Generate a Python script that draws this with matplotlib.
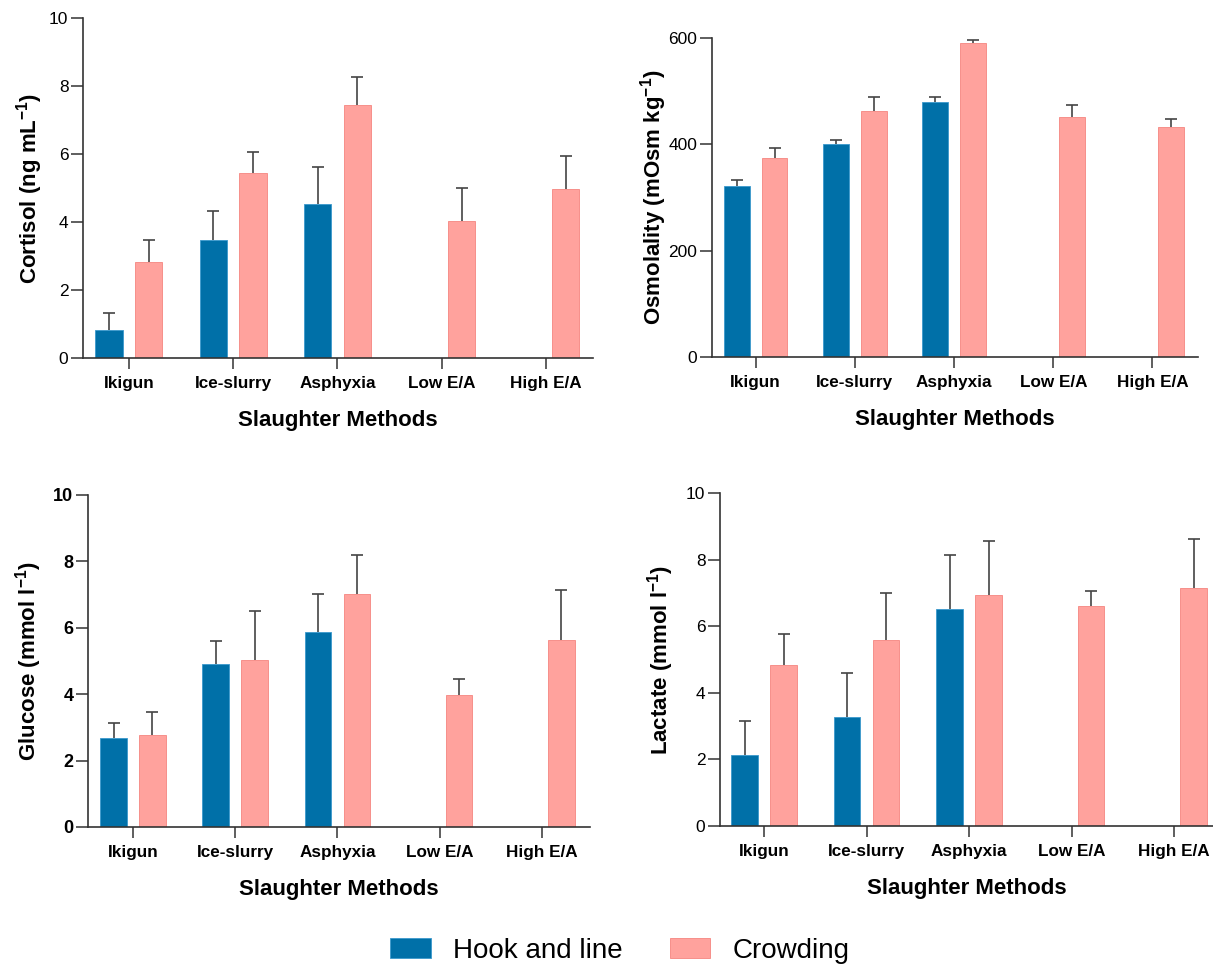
import numpy as np
import matplotlib
matplotlib.use("Agg")
import matplotlib.pyplot as plt

plt.rcParams['font.family'] = ['Liberation Sans', 'DejaVu Sans']
plt.rcParams['mathtext.fontset'] = 'custom'
plt.rcParams['mathtext.rm'] = 'Liberation Sans'
plt.rcParams['mathtext.bf'] = 'Liberation Sans:bold'

nan = np.nan

# Slaughter methods on the x axis
methods = ['Ikigun', 'Ice-slurry', 'Asphyxia', 'Low E/A', 'High E/A']

# Cortisol (ng/mL): means and upper SD
cortisol_hook = [0.81, 3.47, 4.52, nan, nan]
cortisol_hook_sd = [0.51, 0.85, 1.09, nan, nan]
cortisol_crowd = [2.81, 5.45, 7.44, 4.03, 4.97]
cortisol_crowd_sd = [0.65, 0.60, 0.81, 0.96, 0.96]

# Osmolality (mOsm/kg)
osmo_hook = [321, 400, 480, nan, nan]
osmo_hook_sd = [12, 9, 10, nan, nan]
osmo_crowd = [374, 462, 590, 451, 432]
osmo_crowd_sd = [19, 27, 6, 23, 16]

# Glucose (mmol/l)
glucose_hook = [2.68, 4.90, 5.88, nan, nan]
glucose_hook_sd = [0.44, 0.69, 1.15, nan, nan]
glucose_crowd = [2.77, 5.02, 7.03, 3.96, 5.62]
glucose_crowd_sd = [0.69, 1.48, 1.15, 0.50, 1.52]

# Lactate (mmol/l)
lactate_hook = [2.14, 3.26, 6.53, nan, nan]
lactate_hook_sd = [1.02, 1.32, 1.60, nan, nan]
lactate_crowd = [4.83, 5.60, 6.93, 6.60, 7.16]
lactate_crowd_sd = [0.94, 1.39, 1.63, 0.46, 1.46]

blue = '#0070a8'
pink = '#ffa29d'
axis_col = '#333333'

fig = plt.figure(figsize=(12.13, 9.68), dpi=100)

# axes rectangles in figure fractions
ax_tl = fig.add_axes([0.0684, 0.6302, 0.4204, 0.3512])
ax_tr = fig.add_axes([0.5870, 0.6312, 0.4007, 0.3295])
ax_bl = fig.add_axes([0.0725, 0.1457, 0.4139, 0.3430])
ax_br = fig.add_axes([0.5936, 0.1467, 0.4064, 0.3440])

x = np.arange(len(methods))
width = 0.26
off = 0.19


def panel(ax, hook, hook_sd, crowd, crowd_sd, ylabel, yticks, xlim, ybold=False):
    ax.bar(x - off, hook, width, color=blue, edgecolor='#3a98cc', linewidth=0.6,
           label='Hook and line', zorder=2)
    ax.bar(x + off, crowd, width, color=pink, edgecolor='#f58580', linewidth=0.6,
           label='Crowding', zorder=2)
    for xs, m, sd in [(x - off, hook, hook_sd), (x + off, crowd, crowd_sd)]:
        m = np.array(m, dtype=float)
        sd = np.array(sd, dtype=float)
        eb = ax.errorbar(xs, m, yerr=[np.zeros_like(sd), sd], fmt='none',
                         ecolor='#444444', elinewidth=1.2, capsize=4.5,
                         capthick=1.2, zorder=3)
        # drop the lower cap sitting on the bar top
        eb[1][0].set_visible(False)

    ax.set_xlim(*xlim)
    ax.set_ylim(yticks[0], yticks[-1])
    ax.set_yticks(yticks)
    ax.set_xticks(x)
    ax.set_xticklabels(methods, fontsize=12.3, fontweight='bold')
    for lab in ax.get_yticklabels():
        lab.set_fontsize(13 if ybold else 12.5)
        lab.set_fontweight('bold' if ybold else 'normal')
    ax.spines['top'].set_visible(False)
    ax.spines['right'].set_visible(False)
    for s in ('left', 'bottom'):
        ax.spines[s].set_linewidth(1.2)
        ax.spines[s].set_color(axis_col)
    ax.tick_params(axis='y', length=8.5, width=1.1, color=axis_col, pad=2)
    ax.tick_params(axis='x', length=8, width=1.1, color=axis_col, pad=5)
    ax.set_ylabel(ylabel, fontsize=16, fontweight='bold')
    ax.set_xlabel('Slaughter Methods', fontsize=16, fontweight='bold', labelpad=14)


panel(ax_tl, cortisol_hook, cortisol_hook_sd, cortisol_crowd, cortisol_crowd_sd,
      r'Cortisol (ng mL$^{\mathbf{-1}}$)', [0, 2, 4, 6, 8, 10], (-0.44, 4.45))
panel(ax_tr, osmo_hook, osmo_hook_sd, osmo_crowd, osmo_crowd_sd,
      r'Osmolality (mOsm kg$^{\mathbf{-1}}$)', [0, 200, 400, 600], (-0.44, 4.46))
panel(ax_bl, glucose_hook, glucose_hook_sd, glucose_crowd, glucose_crowd_sd,
      r'Glucose (mmol l$^{\mathbf{-1}}$)', [0, 2, 4, 6, 8, 10], (-0.44, 4.47), ybold=True)
panel(ax_br, lactate_hook, lactate_hook_sd, lactate_crowd, lactate_crowd_sd,
      r'Lactate (mmol l$^{\mathbf{-1}}$)', [0, 2, 4, 6, 8, 10], (-0.43, 4.38))

ax_tl.yaxis.set_label_coords(-0.075, 0.5)
ax_tr.yaxis.set_label_coords(-0.088, 0.5)
ax_bl.yaxis.set_label_coords(-0.088, 0.5)
ax_br.yaxis.set_label_coords(-0.09, 0.5)

handles, labels = ax_tl.get_legend_handles_labels()
fig.legend(handles, labels, loc='center', bbox_to_anchor=(0.511, 0.018), ncol=2,
           frameon=False, fontsize=20, handlelength=1.45, handleheight=0.72,
           handletextpad=0.8, columnspacing=1.7)

fig.savefig('out.png', dpi=100)
